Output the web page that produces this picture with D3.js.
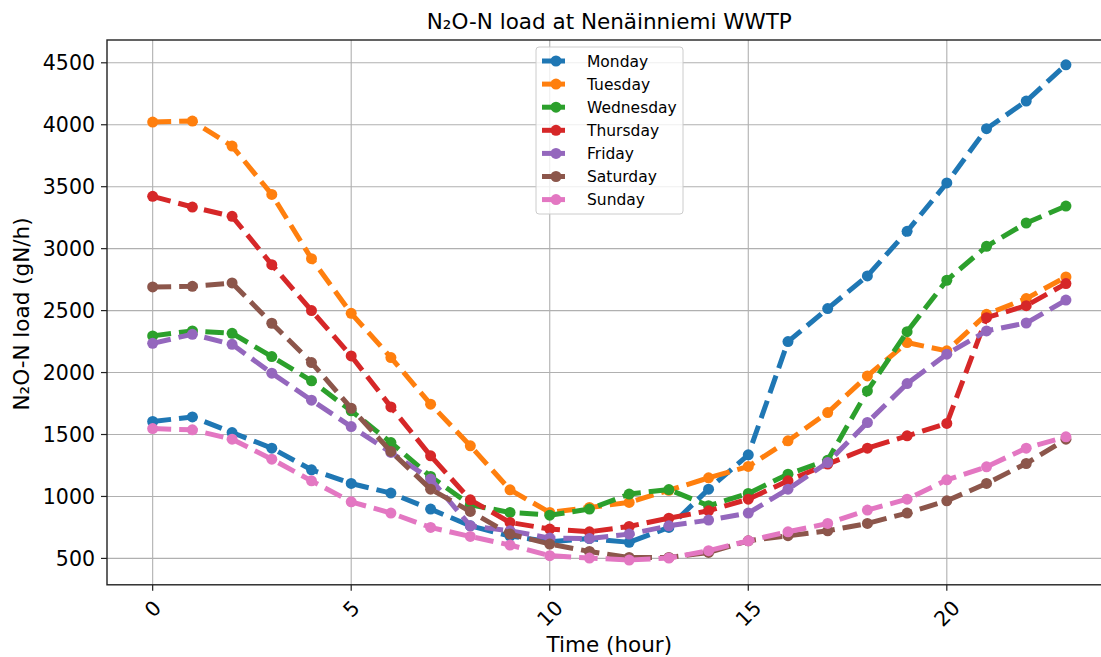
<!DOCTYPE html>
<html>
<head>
<meta charset="utf-8">
<script src="https://cdn.jsdelivr.net/npm/d3@7"></script>
<style>
  body { margin: 0; background: #fff; }
  svg { display: block; font-family: "DejaVu Sans", sans-serif; }
</style>
</head>
<body>
<svg width="1101" height="657"></svg>
<script>
// data
var hours = [0,1,2,3,4,5,6,7,8,9,10,11,12,13,14,15,16,17,18,19,20,21,22,23];
var days = ["Monday","Tuesday","Wednesday","Thursday","Friday","Saturday","Sunday"];
var monday    = [1605,1642,1516,1390,1215,1105,1027,898,763,680,635,660,630,750,1059,1336,2250,2516,2780,3140,3530,3968,4191,4484];
var tuesday   = [4022,4030,3828,3438,2919,2478,2121,1745,1409,1054,871,911,952,1050,1150,1242,1449,1677,1973,2242,2175,2470,2597,2772];
var wednesday = [2296,2336,2317,2129,1933,1691,1435,1161,933,871,849,898,1019,1056,925,1024,1180,1293,1852,2330,2745,3019,3207,3344];
var thursday  = [3422,3336,3261,2871,2500,2134,1723,1328,973,790,737,715,758,825,884,978,1126,1261,1390,1489,1589,2443,2540,2718];
var friday    = [2236,2309,2228,1995,1777,1564,1355,1140,763,723,664,661,696,763,809,866,1059,1274,1597,1911,2148,2336,2400,2585];
var saturday  = [2691,2696,2723,2398,2081,1712,1363,1059,879,696,616,556,508,508,548,642,683,723,782,866,965,1105,1266,1462];
var sunday    = [1548,1538,1462,1301,1126,957,866,750,677,608,522,503,487,503,562,642,715,782,890,978,1134,1239,1390,1481];
var xTicks = [0,5,10,15,20];
var yTicks = [500,1000,1500,2000,2500,3000,3500,4000,4500];

var series = [monday, tuesday, wednesday, thursday, friday, saturday, sunday];
var colors = ["#1f77b4","#ff7f0e","#2ca02c","#d62728","#9467bd","#8c564b","#e377c2"];

// plot box (right spine falls just outside the picture)
var L = 107, R = 1111.6, T = 40, B = 584.8;
var x = d3.scaleLinear().domain([-1.15, 24.15]).range([L, R]);
var y = d3.scaleLinear().domain([287, 4684]).range([B, T]);

var svg = d3.select("svg");

// grid
var grid = svg.append("g");
grid.selectAll(".gx").data(xTicks).enter().append("line")
  .attr("x1", function(d){ return x(d); }).attr("x2", function(d){ return x(d); })
  .attr("y1", T).attr("y2", B)
  .style("stroke", "#b0b0b0").style("stroke-width", 1.1);
grid.selectAll(".gy").data(yTicks).enter().append("line")
  .attr("x1", L).attr("x2", R)
  .attr("y1", function(d){ return y(d); }).attr("y2", function(d){ return y(d); })
  .style("stroke", "#b0b0b0").style("stroke-width", 1.1);

// lines + markers, series after series
var line = d3.line()
  .x(function(d, i){ return x(hours[i]); })
  .y(function(d){ return y(d); });

series.forEach(function(s, k) {
  svg.append("path")
    .attr("d", line(s))
    .style("fill", "none")
    .style("stroke", colors[k])
    .style("stroke-width", 5)
    .style("stroke-dasharray", "18.5,8")
    .style("stroke-linejoin", "round");
  svg.append("g").selectAll("circle").data(s).enter().append("circle")
    .attr("cx", function(d, i){ return x(hours[i]); })
    .attr("cy", function(d){ return y(d); })
    .attr("r", 5.5)
    .style("fill", colors[k]);
});

// spines
svg.append("rect")
  .attr("x", L).attr("y", T).attr("width", R - L).attr("height", B - T)
  .style("fill", "none").style("stroke", "#222").style("stroke-width", 1.4);

// y axis ticks
var yAx = svg.append("g");
yAx.selectAll("line").data(yTicks).enter().append("line")
  .attr("x1", L - 6).attr("x2", L)
  .attr("y1", function(d){ return y(d); }).attr("y2", function(d){ return y(d); })
  .style("stroke", "#222").style("stroke-width", 1.2);
yAx.selectAll("text").data(yTicks).enter().append("text")
  .attr("x", L - 12)
  .attr("y", function(d){ return y(d); })
  .attr("dy", "0.36em")
  .attr("text-anchor", "end")
  .style("font-size", "20.5px")
  .text(function(d){ return d; });

// x axis ticks, labels turned 45 degrees
var xAx = svg.append("g");
xAx.selectAll("line").data(xTicks).enter().append("line")
  .attr("x1", function(d){ return x(d); }).attr("x2", function(d){ return x(d); })
  .attr("y1", B).attr("y2", B + 6)
  .style("stroke", "#222").style("stroke-width", 1.2);
xAx.selectAll("text").data(xTicks).enter().append("text")
  .attr("text-anchor", "middle")
  .attr("dy", "0.36em")
  .style("font-size", "20.5px")
  .text(function(d){ return d; })
  .attr("transform", function(d) {
    var w = this.getComputedTextLength(), h = 15;
    var cy = B + 14 + (w + h) / (2 * Math.SQRT2);
    return "translate(" + x(d) + "," + cy + ") rotate(-45)";
  });

// titles
svg.append("text")
  .attr("x", (L + R) / 2).attr("y", 29)
  .attr("text-anchor", "middle")
  .style("font-size", "21.5px")
  .text("N\u2082O-N load at Nen\u00e4inniemi WWTP");
svg.append("text")
  .attr("x", (L + R) / 2).attr("y", 652)
  .attr("text-anchor", "middle")
  .style("font-size", "21.5px")
  .text("Time (hour)");
svg.append("text")
  .attr("transform", "translate(29,314) rotate(-90)")
  .attr("text-anchor", "middle")
  .style("font-size", "21.5px")
  .text("N\u2082O-N load (gN/h)");

// legend
var lg = svg.append("g").attr("transform", "translate(536,47)");
lg.append("rect")
  .attr("width", 147).attr("height", 167).attr("rx", 3)
  .style("fill", "#fff").style("fill-opacity", 0.8)
  .style("stroke", "#ccc").style("stroke-width", 1);
var item = lg.selectAll(".item").data(days).enter().append("g")
  .attr("transform", function(d, i){ return "translate(0," + (14 + i * 23.1) + ")"; });
item.append("line")
  .attr("x1", 6).attr("x2", 29).attr("y1", 0).attr("y2", 0)
  .style("stroke", function(d, i){ return colors[i]; })
  .style("stroke-width", 5);
item.append("circle")
  .attr("cx", 20).attr("cy", 0).attr("r", 5.5)
  .style("fill", function(d, i){ return colors[i]; });
item.append("text")
  .attr("x", 51).attr("y", 0).attr("dy", "0.36em")
  .style("font-size", "15.5px")
  .text(function(d){ return d; });
</script>
</body>
</html>
